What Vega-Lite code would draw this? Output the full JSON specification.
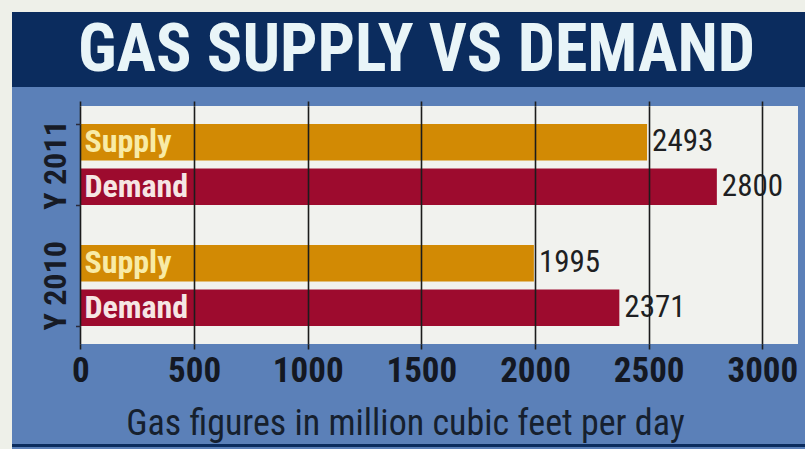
{
  "$schema": "https://vega.github.io/schema/vega-lite/v6.json",
  "background": "#5b80b8",
  "padding": 0,
  "autosize": {"type": "pad"},
  "config": {"view": {"stroke": null}, "font": "Roboto Condensed, DejaVu Sans Condensed, sans-serif", "concat": {"spacing": 0}},
  "datasets": {
    "gas": [
      {"year": "Y 2011", "type": "Supply", "value": 2493},
      {"year": "Y 2011", "type": "Demand", "value": 2800},
      {"year": "Y 2010", "type": "Supply", "value": 1995},
      {"year": "Y 2010", "type": "Demand", "value": 2371}
    ],
    "none": []
  },
  "hconcat": [
    {"width": 12, "height": 449, "data": {"name": "none"}, "mark": {"type": "text", "text": ""}, "view": {"fill": "#eef0e9", "stroke": null}},
    {
      "spacing": 13,
      "vconcat": [
        {
          "spacing": 0,
          "vconcat": [
            {"width": 793, "height": 12, "data": {"name": "none"}, "mark": {"type": "text", "text": ""}, "view": {"fill": "#eef0e9", "stroke": null}},
            {"width": 793, "height": 75, "data": {"values": [{"t": "GAS SUPPLY VS DEMAND"}]},
             "mark": {"type": "text", "fontSize": 66, "fontWeight": "bold", "color": "#e9f5f8", "baseline": "middle", "align": "center", "dx": 8, "dy": 1},
             "encoding": {"text": {"field": "t"}},
             "view": {"fill": "#0b2c5e", "stroke": null}}
          ]
        },
        {
          "spacing": 3,
          "vconcat": [
            {
              "width": 786,
              "height": 238,
              "data": {"name": "gas"},
              "view": {"fill": "#f1f2ee", "stroke": null},
              "layer": [
                {
                  "data": {"values": [{}]},
                  "mark": {"type": "rect", "color": "#5b80b8"},
                  "encoding": {
                    "x": {"datum": -301, "type": "quantitative", "axis": null},
                    "x2": {"datum": 0}
                  }
                },
                {
                  "mark": {"type": "bar"},
                  "encoding": {
                    "x": {"field": "value", "type": "quantitative", "scale": {"domain": [-301, 3157], "nice": false, "zero": false},
                          "axis": {"orient": "bottom", "zindex": 1, "values": [0, 500, 1000, 1500, 2000, 2500, 3000], "format": "d",
                                   "grid": true, "gridColor": "#1c1c1c", "gridWidth": 1.6, "domain": false,
                                   "ticks": true, "tickSize": 5, "tickColor": "#1c1c1c", "tickWidth": 1.6,
                                   "labelFontSize": 35, "labelFontWeight": "bold", "labelColor": "#141822", "labelPadding": 4,
                                   "labelFlush": false, "labelOverlap": false,
                                   "title": "Gas figures in million cubic feet per day", "titleFontSize": 36, "titleFontWeight": "normal",
                                   "titleColor": "#16202e", "titlePadding": 18}},
                    "y": {"field": "year", "type": "nominal", "sort": ["Y 2011", "Y 2010"],
                          "scale": {"paddingInner": 0.33, "paddingOuter": 0.15},
                          "axis": {"title": null, "zindex": 1, "offset": -68.5, "domain": false, "ticks": true, "tickBand": "extent", "tickSize": 5, "tickColor": "#2a2a3a", "tickWidth": 1.5,
                                   "labelAngle": 270, "labelAlign": "center", "labelBaseline": "bottom", "labelFontSize": 32, "labelFontWeight": "bold",
                                   "labelColor": "#171b26", "labelPadding": 3, "grid": false}},
                    "yOffset": {"field": "type", "type": "nominal", "sort": ["Supply", "Demand"], "scale": {"paddingInner": 0.18, "paddingOuter": 0}},
                    "color": {"field": "type", "type": "nominal", "scale": {"domain": ["Supply", "Demand"], "range": ["#d28a04", "#9d0b2e"]}, "legend": null}
                  }
                },
                {
                  "mark": {"type": "text", "align": "left", "baseline": "middle", "dx": 4, "fontSize": 32, "fontWeight": "bold"},
                  "encoding": {
                    "x": {"datum": 0, "type": "quantitative", "axis": null},
                    "y": {"field": "year", "type": "nominal", "sort": ["Y 2011", "Y 2010"]},
                    "yOffset": {"field": "type", "type": "nominal", "sort": ["Supply", "Demand"]},
                    "text": {"field": "type"},
                    "color": {"field": "type", "type": "nominal", "scale": {"domain": ["Supply", "Demand"], "range": ["#f8eba6", "#f6e6e4"]}, "legend": null}
                  }
                },
                {
                  "mark": {"type": "text", "align": "left", "baseline": "middle", "dx": 5, "fontSize": 31, "color": "#1e1f22"},
                  "encoding": {
                    "x": {"field": "value", "type": "quantitative",
                          "axis": {"orient": "top", "zindex": 1, "values": [0, 500, 1000, 1500, 2000, 2500, 3000], "grid": false, "labels": false, "domain": false,
                                   "ticks": true, "tickSize": 5, "tickColor": "#1c1c1c", "tickWidth": 1.6, "title": null, "minExtent": 0, "maxExtent": 5}},
                    "y": {"field": "year", "type": "nominal", "sort": ["Y 2011", "Y 2010"]},
                    "yOffset": {"field": "type", "type": "nominal", "sort": ["Supply", "Demand"]},
                    "text": {"field": "value"}
                  }
                }
              ],
              "resolve": {"axis": {"x": "independent"}, "scale": {"color": "independent"}}
            },
            {"width": 793, "height": 3, "data": {"name": "none"}, "mark": {"type": "text", "text": ""}, "view": {"fill": "#0b2c5e", "stroke": null}}
          ]
        }
      ]
    }
  ]
}
